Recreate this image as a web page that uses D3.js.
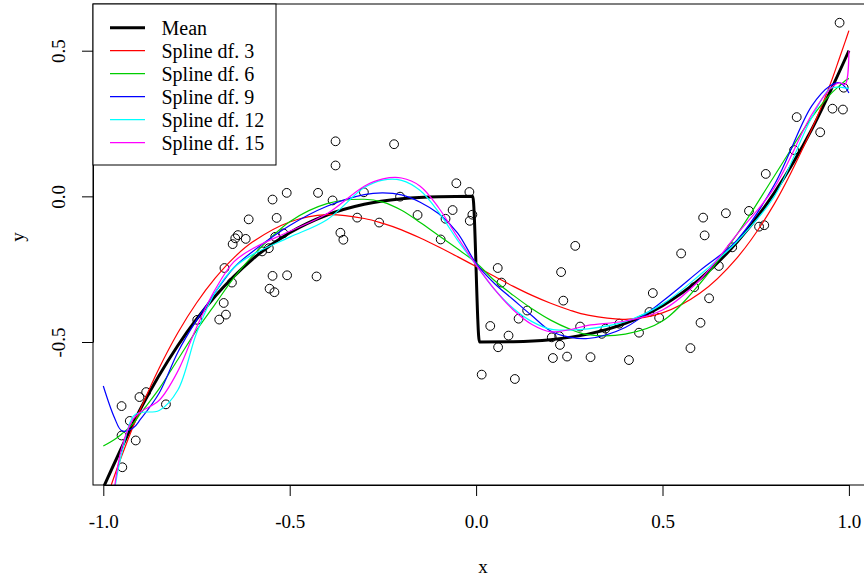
<!DOCTYPE html>
<html>
<head>
<meta charset="utf-8">
<script src="https://cdn.jsdelivr.net/npm/d3@7"></script>
<style>
  html, body { margin: 0; padding: 0; background: #fff; }
  svg { display: block; }
  text { font-family: "Liberation Serif", "Times New Roman", serif; fill: #000; }
</style>
</head>
<body>
<svg id="chart" width="864" height="581"></svg>
<script>
// Observed sample
const ptX = [-0.675,-0.655,-0.677,-0.671,-0.689,-0.748,-0.885,-0.903,-0.951,-0.832,-0.929,-0.951,-0.913,-0.949,
  -0.508,-0.546,-0.424,-0.385,-0.610,-0.535,-0.639,-0.646,-0.653,-0.618,-0.517,-0.364,-0.356,-0.319,-0.260,-0.301,
  -0.204,-0.157,-0.063,-0.082,-0.053,-0.018,-0.010,-0.017,-0.095,-0.574,-0.556,-0.546,-0.507,-0.428,-0.554,-0.541,
  -0.377,-0.377,-0.220,0.266,0.058,0.228,0.068,0.234,0.137,0.114,0.038,0.279,0.087,0.203,0.223,0.225,0.059,0.206,
  0.244,0.307,0.015,0.104,0.550,0.474,0.651,0.687,0.625,0.585,0.465,0.491,0.384,0.437,0.602,0.575,0.410,0.347,
  0.337,0.975,0.986,0.956,0.984,0.860,0.923,0.777,0.853,0.609,0.670,0.732,0.613,0.759,0.773,-0.539];
const ptY = [-0.246,-0.296,-0.366,-0.406,-0.423,-0.424,-0.672,-0.689,-0.720,-0.714,-0.771,-0.821,-0.838,-0.930,
  0.012,-0.011,0.012,-0.014,-0.079,-0.074,-0.133,-0.144,-0.164,-0.146,-0.127,-0.125,-0.149,-0.073,-0.090,0.014,
  -0.001,-0.064,-0.047,-0.077,0.045,0.015,-0.063,-0.084,-0.148,-0.189,-0.178,-0.273,-0.271,-0.275,-0.317,-0.329,
  0.189,0.106,0.179,-0.170,-0.246,-0.260,-0.296,-0.358,-0.392,-0.420,-0.445,-0.447,-0.478,-0.484,-0.480,-0.510,-0.518,-0.555,
  -0.550,-0.552,-0.612,-0.627,-0.196,-0.332,-0.239,-0.175,-0.350,-0.312,-0.397,-0.417,-0.437,-0.468,-0.434,-0.521,-0.562,-0.454,
  -0.472,0.596,0.373,0.301,0.298,0.272,0.220,0.077,0.159,-0.073,-0.058,-0.050,-0.134,-0.104,-0.099,-0.139];

// True mean function (jump at x = 0)
const meanX = [-1,-0.9,-0.8,-0.7,-0.6,-0.5,-0.4,-0.3,-0.2,-0.1,-0.009,0.009,0.1,0.2,0.3,0.4,0.5,0.6,0.7,0.8,0.9,1];
const meanY = [-1,-0.729,-0.512,-0.343,-0.216,-0.125,-0.064,-0.027,-0.008,-0.001,0,-0.5,-0.499,-0.492,-0.473,-0.436,-0.375,-0.284,-0.157,0.012,0.229,0.5];

// Fitted regression splines evaluated on a common grid
const splineX = [-1,-0.97,-0.95,-0.92,-0.9,-0.85,-0.8,-0.75,-0.7,-0.65,-0.6,-0.5,-0.4,-0.3,-0.25,-0.2,-0.15,-0.1,-0.05,0,
  0.05,0.1,0.15,0.2,0.25,0.3,0.4,0.5,0.6,0.7,0.8,0.9,0.95,0.975,0.99,1];
const splineDf3 = [-1.071,-0.959,-0.889,-0.790,-0.729,-0.589,-0.468,-0.366,-0.281,-0.211,-0.157,-0.088,-0.063,-0.076,-0.093,-0.115,-0.143,-0.174,-0.207,-0.241,
  -0.275,-0.309,-0.340,-0.367,-0.390,-0.408,-0.422,-0.400,-0.333,-0.211,-0.026,0.230,0.385,0.476,0.531,0.569];
const splineDf6 = [-0.857,-0.835,-0.815,-0.78,-0.745,-0.66,-0.56,-0.46,-0.37,-0.28,-0.205,-0.087,-0.025,-0.01,-0.02,-0.048,-0.09,-0.135,-0.18,-0.228,
  -0.29,-0.34,-0.386,-0.425,-0.455,-0.475,-0.473,-0.428,-0.30,-0.13,0.07,0.27,0.35,0.38,0.397,0.405];
const splineDf9 = [-0.651,-0.76,-0.805,-0.795,-0.765,-0.675,-0.535,-0.425,-0.33,-0.245,-0.19,-0.1,-0.034,0.006,0.012,0.005,-0.02,-0.06,-0.125,-0.23,
  -0.30,-0.355,-0.41,-0.462,-0.483,-0.488,-0.45,-0.36,-0.255,-0.15,0.04,0.31,0.38,0.39,0.375,0.355];
const splineDf12 = [-1.35,-1.01,-0.88,-0.755,-0.742,-0.735,-0.665,-0.47,-0.33,-0.245,-0.2,-0.14,-0.08,0.03,0.056,0.055,0.02,-0.055,-0.15,-0.236,
  -0.32,-0.385,-0.43,-0.456,-0.459,-0.455,-0.43,-0.37,-0.27,-0.155,0.0,0.27,0.37,0.375,0.372,0.37];
const splineDf15 = [-1.45,-1.0,-0.86,-0.765,-0.74,-0.70,-0.6,-0.45,-0.32,-0.225,-0.18,-0.12,-0.06,0.035,0.06,0.063,0.035,-0.04,-0.14,-0.235,
  -0.32,-0.39,-0.44,-0.465,-0.458,-0.443,-0.428,-0.39,-0.287,-0.13,0.03,0.28,0.37,0.39,0.385,0.5];

const legendLabels = ["Mean", "Spline df. 3", "Spline df. 6", "Spline df. 9", "Spline df. 12", "Spline df. 15"];
const seriesColors = ["#000000", "#FF0000", "#00CD00", "#0000FF", "#00FFFF", "#FF00FF"];
const seriesWidths = [3, 1.2, 1.2, 1.2, 1.2, 1.2];

const xTicks = [-1, -0.5, 0, 0.5, 1];
const xTickLabels = ["-1.0", "-0.5", "0.0", "0.5", "1.0"];
const yTicks = [-0.5, 0, 0.5];
const yTickLabels = ["-0.5", "0.0", "0.5"];

// Plot region
const box = { left: 93, top: 4, right: 866, bottom: 485 };

const x = d3.scaleLinear().domain([-1, 1]).range([103.3, 848.9]);
const y = d3.scaleLinear().domain([-0.5, 0.5]).range([342, 50.7]);

const svg = d3.select("#chart");

svg.append("defs").append("clipPath").attr("id", "plotClip")
  .append("rect")
  .attr("x", box.left).attr("y", box.top)
  .attr("width", box.right - box.left).attr("height", box.bottom - box.top);

const plot = svg.append("g").attr("clip-path", "url(#plotClip)");

// Points (open circles)
plot.append("g").selectAll("circle")
  .data(d3.range(ptX.length))
  .join("circle")
  .attr("cx", i => x(ptX[i]))
  .attr("cy", i => y(ptY[i]))
  .attr("r", 4.4)
  .attr("fill", "none")
  .attr("stroke", "#000")
  .attr("stroke-width", 1);

// Mean curve
const meanLine = d3.line()
  .x(i => x(meanX[i])).y(i => y(meanY[i]))
  .curve(d3.curveMonotoneX);

plot.append("path")
  .attr("d", meanLine(d3.range(meanX.length)))
  .attr("fill", "none")
  .attr("stroke", seriesColors[0])
  .attr("stroke-width", seriesWidths[0])
  .attr("stroke-linejoin", "round");

// Spline fits
const fits = [splineDf3, splineDf6, splineDf9, splineDf12, splineDf15];
fits.forEach((vals, k) => {
  const line = d3.line()
    .x(i => x(splineX[i])).y(i => y(vals[i]))
    .curve(d3.curveCatmullRom.alpha(0.5));
  plot.append("path")
    .attr("d", line(d3.range(splineX.length)))
    .attr("fill", "none")
    .attr("stroke", seriesColors[k + 1])
    .attr("stroke-width", seriesWidths[k + 1]);
});

// Plot frame
svg.append("rect")
  .attr("x", box.left).attr("y", box.top)
  .attr("width", box.right - box.left).attr("height", box.bottom - box.top)
  .attr("fill", "none").attr("stroke", "#000").attr("stroke-width", 1);

// Axes
const xAxis = d3.axisBottom(x)
  .tickValues(xTicks)
  .tickSize(11).tickSizeOuter(0)
  .tickFormat((d, i) => xTickLabels[i]);
const gx = svg.append("g").attr("transform", `translate(0,${box.bottom})`).call(xAxis);
gx.selectAll("text").attr("y", 36).attr("dy", "0.35em").style("font-size", "19px")
  .style("font-family", '"Liberation Serif", serif');

const yAxis = d3.axisLeft(y)
  .tickValues(yTicks)
  .tickSize(11).tickSizeOuter(0)
  .tickFormat((d, i) => yTickLabels[i]);
const gy = svg.append("g").attr("transform", `translate(${box.left},0)`).call(yAxis);
gy.selectAll(".tick text")
  .attr("x", null).attr("dy", null)
  .attr("text-anchor", "middle")
  .attr("dominant-baseline", "central")
  .attr("transform", "translate(-35,0) rotate(-90)")
  .style("font-size", "19px")
  .style("font-family", '"Liberation Serif", serif');

[gx, gy].forEach(g => {
  g.selectAll("path.domain").attr("stroke", "#000");
  g.selectAll(".tick line").attr("stroke", "#000");
});

// Axis titles
svg.append("text")
  .attr("x", 483).attr("y", 566)
  .attr("text-anchor", "middle").attr("dominant-baseline", "central")
  .style("font-size", "19px")
  .text("x");
svg.append("text")
  .attr("transform", "translate(17,237) rotate(-90)")
  .attr("text-anchor", "middle").attr("dominant-baseline", "central")
  .style("font-size", "19px")
  .text("y");

// Legend
const legend = svg.append("g");
legend.append("rect")
  .attr("x", box.left).attr("y", box.top)
  .attr("width", 276 - box.left).attr("height", 165 - box.top)
  .attr("fill", "#fff").attr("stroke", "#000").attr("stroke-width", 1);

const rowY = d3.scaleLinear().domain([0, legendLabels.length - 1]).range([27.7, 142.7]);
legendLabels.forEach((lab, i) => {
  legend.append("line")
    .attr("x1", 110).attr("x2", 145)
    .attr("y1", rowY(i)).attr("y2", rowY(i))
    .attr("stroke", seriesColors[i])
    .attr("stroke-width", seriesWidths[i]);
  legend.append("text")
    .attr("x", 161.5).attr("y", rowY(i))
    .attr("dominant-baseline", "central")
    .style("font-size", "20px")
    .text(lab);
});
</script>
</body>
</html>
